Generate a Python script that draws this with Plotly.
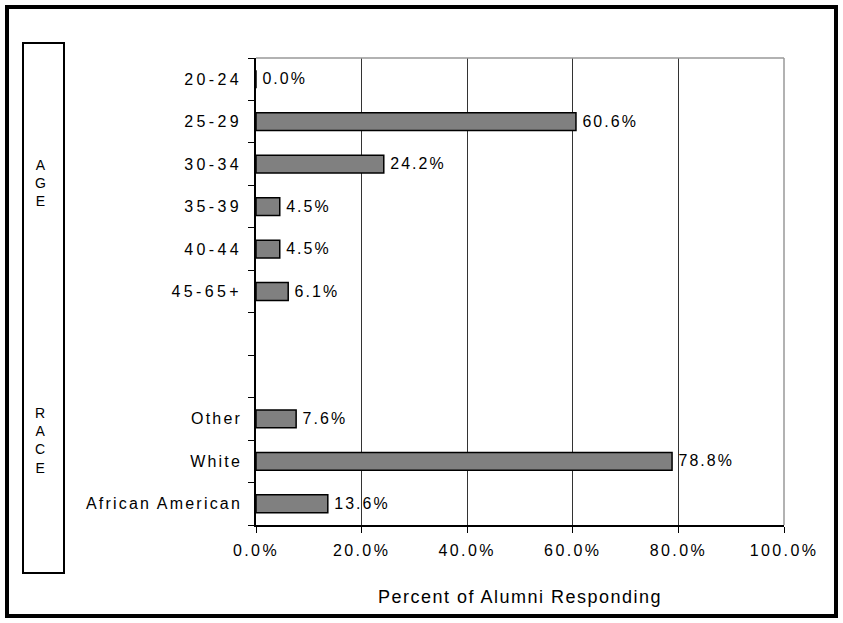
import plotly.graph_objects as go

categories = ["20-24", "25-29", "30-34", "35-39", "40-44", "45-65+", " ", "  ",
              "Other", "White", "African American"]
values = [0.0, 60.6, 24.2, 4.5, 4.5, 6.1, None, None, 7.6, 78.8, 13.6]
x_ticks = [0, 20, 40, 60, 80, 100]
x_tick_labels = ["0.0%", "20.0%", "40.0%", "60.0%", "80.0%", "100.0%"]
group_labels = ["A<br>G<br>E", "R<br>A<br>C<br>E"]
x_title = "Percent of Alumni Responding"

FONT = "Liberation Sans, Arial, sans-serif"


def spaced(s, px):
    return f"<span style='letter-spacing:{px}px'>{s}</span>"


W, H = 843, 623
ML, MR, MT, MB = 256, 59, 58, 98
PW, PH = W - ML - MR, H - MT - MB


def px_x(p):
    return (p - ML) / PW


def px_y(p):
    return (H - MB - p) / PH


bar_text = [spaced("\u200a" + f"{v:.1f}%", 2.2) if v is not None else "" for v in values]


def y_label(c):
    if not c.strip():
        return ""
    has_digit = any(ch.isdigit() for ch in c)
    return spaced(c, 3.4 if has_digit else 2.2)


fig = go.Figure(
    go.Bar(
        y=categories,
        x=values,
        orientation="h",
        width=0.42,
        marker=dict(color="#808080", line=dict(color="black", width=1.5)),
        text=bar_text,
        textposition="outside",
        textfont=dict(family=FONT, size=17, color="black"),
        cliponaxis=False,
        hoverinfo="skip",
    )
)

fig.update_layout(
    width=W,
    height=H,
    margin=dict(l=ML, r=MR, t=MT, b=MB, autoexpand=False),
    paper_bgcolor="white",
    plot_bgcolor="white",
    showlegend=False,
    font=dict(family=FONT, size=16, color="black"),
)

fig.update_xaxes(
    range=[0, 100],
    tickvals=x_ticks,
    ticktext=[spaced(t, 2.4) for t in x_tick_labels],
    showgrid=True,
    gridcolor="#333333",
    gridwidth=1,
    zeroline=False,
    showline=True,
    linecolor="black",
    linewidth=1.5,
    ticks="outside",
    ticklen=6,
    tickcolor="black",
    tickfont=dict(family=FONT, size=16, color="black"),
    ticklabelstandoff=4,
    title=dict(text=spaced(x_title, 1.5), font=dict(family=FONT, size=18, color="black"), standoff=32),
    automargin=False,
    fixedrange=True,
)

fig.update_yaxes(
    type="category",
    categoryorder="array",
    categoryarray=categories,
    autorange="reversed",
    tickvals=categories,
    ticktext=[y_label(c) for c in categories],
    tickson="boundaries",
    ticks="outside",
    ticklen=6,
    tickcolor="black",
    showgrid=False,
    showline=True,
    linecolor="black",
    linewidth=1.5,
    tickfont=dict(family=FONT, size=16, color="black"),
    ticklabelstandoff=9,
    automargin=False,
    fixedrange=True,
)

# plot frame (top and right, grey)
fig.add_shape(type="line", xref="paper", yref="paper", x0=0, x1=1, y0=1, y1=1,
              line=dict(color="#999999", width=1.5), layer="above")
fig.add_shape(type="line", xref="paper", yref="paper", x0=1, x1=1, y0=0, y1=1,
              line=dict(color="#999999", width=1.5), layer="above")

# left group box
fig.add_shape(type="rect", xref="paper", yref="paper",
              x0=px_x(23), x1=px_x(64), y0=px_y(573), y1=px_y(43),
              line=dict(color="black", width=2), fillcolor="rgba(0,0,0,0)", layer="above")

# outer border
fig.add_shape(type="rect", xref="paper", yref="paper",
              x0=px_x(7), x1=px_x(836), y0=px_y(616), y1=px_y(7),
              line=dict(color="black", width=4), fillcolor="rgba(0,0,0,0)", layer="above")

for txt, yc in zip(group_labels, [183, 440]):
    fig.add_annotation(
        x=px_x(40), y=px_y(yc), xref="paper", yref="paper",
        text=txt, showarrow=False, xanchor="center", yanchor="middle",
        font=dict(family=FONT, size=14, color="black"),
    )

fig.write_html(
    "out.html",
    config={"displayModeBar": False},
    post_script="document.body.style.margin='0';document.body.style.overflow='hidden';",
)
